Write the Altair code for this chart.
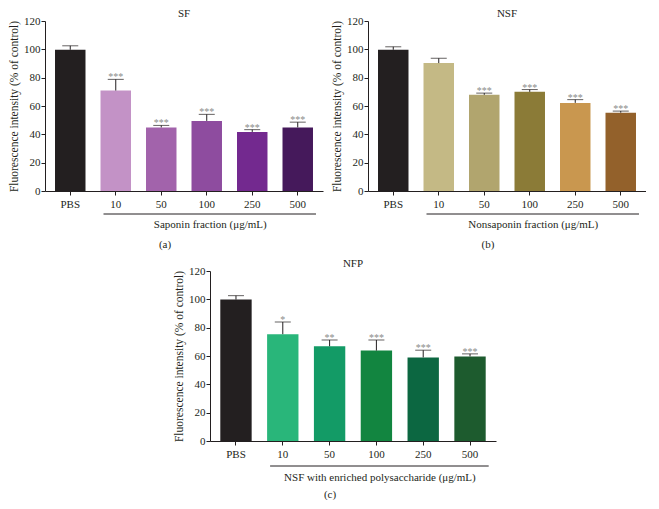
import altair as alt
import pandas as pd

cats = ["PBS", "10", "50", "100", "250", "500"]
y_ticks = [0, 20, 40, 60, 80, 100, 120]

sf_vals = [99.7, 70.9, 44.9, 49.5, 41.7, 44.9]
sf_tops = [102.5, 78.8, 46.3, 54.1, 43.3, 48.6]
sf_stars = ["", "***", "***", "***", "***", "***"]
sf_colors = ["#231f20", "#c392c6", "#a263ab", "#8e4c9f", "#73298f", "#45195b"]

nsf_vals = [99.7, 90.3, 67.9, 70.0, 62.2, 55.3]
nsf_tops = [101.8, 93.7, 69.1, 71.6, 64.5, 56.4]
nsf_stars = ["", "", "***", "***", "***", "***"]
nsf_colors = ["#231f20", "#c4b985", "#b1a56e", "#8b7b37", "#c9974f", "#93612b"]

nfp_vals = [99.8, 75.4, 66.9, 63.8, 59.0, 59.7]
nfp_tops = [102.6, 84.0, 71.3, 71.3, 64.1, 61.5]
nfp_stars = ["", "*", "**", "***", "***", "***"]
nfp_colors = ["#231f20", "#29b67a", "#139b66", "#128540", "#0c6741", "#1d5b2e"]

FONT = "Liberation Serif"
INK = "#231f20"
PI, PO = 0.33, 0.22
YTITLE = "Fluorescence intensity (% of control)"


def panel(title, vals, tops, stars, colors, xtitle, letter, W, H, offs):
    lab_pad, line_off, title_off, letter_off = offs
    df = pd.DataFrame({"cat": cats, "val": vals, "top": tops,
                       "star": stars, "color": colors})
    step = W / (len(cats) - PI + 2 * PO)
    bw = step * (1 - PI)
    line_mid = step * (PO + 3) + 0.5 * bw + 3
    xscale = alt.Scale(domain=cats, paddingInner=PI, paddingOuter=PO)
    xaxis = alt.Axis(
        title=xtitle, labelAngle=0, labelFont=FONT, labelFontSize=11,
        labelColor=INK, labelPadding=lab_pad, tickSize=4, tickColor=INK,
        domainColor=INK, titleFont=FONT, titleFontSize=11,
        titleFontWeight="normal", titleColor=INK, titleX=line_mid,
        titleY=title_off, titleBaseline="middle", titleAlign="center",
    )
    yaxis = alt.Axis(
        title=YTITLE, values=y_ticks, grid=False, labelFont=FONT,
        labelFontSize=11, labelColor=INK, labelPadding=1, tickSize=4,
        tickColor=INK, domainColor=INK, titleFont=FONT, titleFontSize=11.5,
        titleFontWeight="normal", titleColor=INK, titlePadding=4,
    )
    yscale = alt.Scale(domain=[0, 120], nice=False)
    x = alt.X("cat:N", scale=xscale, axis=xaxis, sort=cats)
    base = alt.Chart(df)
    bars = base.mark_bar().encode(
        x=x, y=alt.Y("val:Q", scale=yscale, axis=yaxis),
        color=alt.Color("color:N", scale=None),
    )
    err = base.mark_rule(color=INK, strokeWidth=1).encode(
        x=x, y=alt.Y("val:Q", scale=yscale, axis=yaxis), y2="top:Q"
    )
    cap = base.mark_tick(color=INK, size=16, thickness=1, orient="horizontal").encode(
        x=x, y=alt.Y("top:Q", scale=yscale, axis=yaxis)
    )
    st = base.mark_text(font=FONT, fontSize=10, color="#8a8a8a",
                        baseline="bottom", dy=3).encode(
        x=x, y=alt.Y("top:Q", scale=yscale, axis=yaxis), text="star:N"
    )
    br = alt.Chart(pd.DataFrame({"from": ["10"], "to": ["500"]})).mark_rule(
        color=INK, strokeWidth=1, xOffset=3, x2Offset=3
    ).encode(
        x=alt.X("from:N", bandPosition=0, scale=xscale, axis=xaxis),
        x2=alt.X2("to:N", bandPosition=1),
        y=alt.value(H + line_off),
    )
    lt = alt.Chart(pd.DataFrame({"t": [letter]})).mark_text(
        font=FONT, fontSize=11, color=INK, baseline="middle"
    ).encode(x=alt.value(120), y=alt.value(H + letter_off), text="t:N")
    return alt.layer(bars, err, cap, st, br, lt).properties(
        width=W, height=H,
        title=alt.TitleParams(text=title, font=FONT, fontSize=11,
                              fontWeight="normal", color=INK, offset=-4,
                              anchor="middle"),
    )


a = panel("SF", sf_vals, sf_tops, sf_stars, sf_colors,
          "Saponin fraction (μg/mL)", "(a)", 278, 170, (3, 23, 33, 54))
b = panel("NSF", nsf_vals, nsf_tops, nsf_stars, nsf_colors,
          "Nonsaponin fraction (μg/mL)", "(b)", 278, 170, (3, 23, 33, 54))
c = panel("NFP", nfp_vals, nfp_tops, nfp_stars, nfp_colors,
          "NSF with enriched polysaccharide (μg/mL)", "(c)", 286, 170, (3, 25, 36, 54))

spacer = alt.Chart(pd.DataFrame({"z": [0]})).mark_point(opacity=0).encode(
    x=alt.value(0), y=alt.value(0)
).properties(width=128, height=10)

top = alt.hconcat(a, b, spacing=8)
bottom = alt.hconcat(spacer, c, spacing=0)
chart = alt.vconcat(top, bottom, spacing=8).properties(
    padding=0, background="white"
).configure_view(stroke=None)

chart.save("out.html", embed_options={"renderer": "svg", "actions": False})
